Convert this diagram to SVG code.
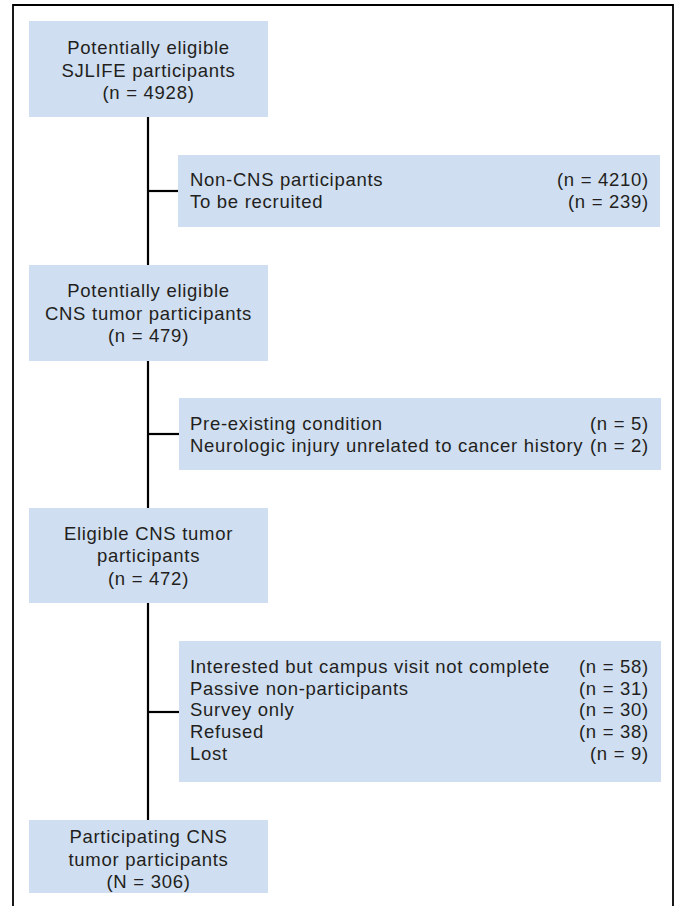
<svg xmlns="http://www.w3.org/2000/svg" width="679" height="906" viewBox="0 0 679 906">
<style>
.box{fill:#cfdef0;}
.t{font-family:"Liberation Sans",Arial,sans-serif;font-size:18.5px;fill:#231f20;letter-spacing:0.72px;}
.c{text-anchor:middle;}
.r{text-anchor:end;}
.ln{stroke:#000;stroke-width:2.2;fill:none;}
</style>
<rect x="0" y="0" width="679" height="906" fill="#fff"/>
<path d="M13,912 V5 H673 V912" fill="none" stroke="#000" stroke-width="1.8"/>
<g id="connectors">
<line class="ln" x1="148" y1="117" x2="148" y2="820"/>
<line class="ln" x1="148" y1="191" x2="178" y2="191"/>
<line class="ln" x1="148" y1="434" x2="179" y2="434"/>
<line class="ln" x1="148" y1="712" x2="179" y2="712"/>
</g>
<g id="n1">
<rect class="box" x="29" y="21" width="239" height="96"/>
<text class="t c" x="148.5" y="54">Potentially eligible</text>
<text class="t c" x="148.5" y="76.5">SJLIFE participants</text>
<text class="t c" x="148.5" y="98.5">(n = 4928)</text>
</g>
<g id="s1">
<rect class="box" x="178" y="155" width="482" height="72"/>
<text class="t" x="190" y="186">Non-CNS participants</text>
<text class="t r" x="649" y="186">(n = 4210)</text>
<text class="t" x="190" y="208">To be recruited</text>
<text class="t r" x="649" y="208">(n = 239)</text>
</g>
<g id="n2">
<rect class="box" x="29" y="265" width="239" height="96"/>
<text class="t c" x="148.5" y="297">Potentially eligible</text>
<text class="t c" x="148.5" y="319.5">CNS tumor participants</text>
<text class="t c" x="148.5" y="342">(n = 479)</text>
</g>
<g id="s2">
<rect class="box" x="179" y="398" width="482" height="72"/>
<text class="t" x="190" y="430">Pre-existing condition</text>
<text class="t r" x="649" y="430">(n = 5)</text>
<text class="t" x="190" y="452">Neurologic injury unrelated to cancer history</text>
<text class="t r" x="649" y="452">(n = 2)</text>
</g>
<g id="n3">
<rect class="box" x="29" y="508" width="239" height="95"/>
<text class="t c" x="148.5" y="539.5">Eligible CNS tumor</text>
<text class="t c" x="148.5" y="562">participants</text>
<text class="t c" x="148.5" y="584.5">(n = 472)</text>
</g>
<g id="s3">
<rect class="box" x="179" y="641" width="482" height="141"/>
<text class="t" x="190" y="673">Interested but campus visit not complete</text>
<text class="t r" x="649" y="673">(n = 58)</text>
<text class="t" x="190" y="694.7">Passive non-participants</text>
<text class="t r" x="649" y="694.7">(n = 31)</text>
<text class="t" x="190" y="716.4">Survey only</text>
<text class="t r" x="649" y="716.4">(n = 30)</text>
<text class="t" x="190" y="738.1">Refused</text>
<text class="t r" x="649" y="738.1">(n = 38)</text>
<text class="t" x="190" y="759.8">Lost</text>
<text class="t r" x="649" y="759.8">(n = 9)</text>
</g>
<g id="n4">
<rect class="box" x="29" y="820" width="239" height="73"/>
<text class="t c" x="148.5" y="843">Participating CNS</text>
<text class="t c" x="148.5" y="865.5">tumor participants</text>
<text class="t c" x="148.5" y="888">(N = 306)</text>
</g>
</svg>
